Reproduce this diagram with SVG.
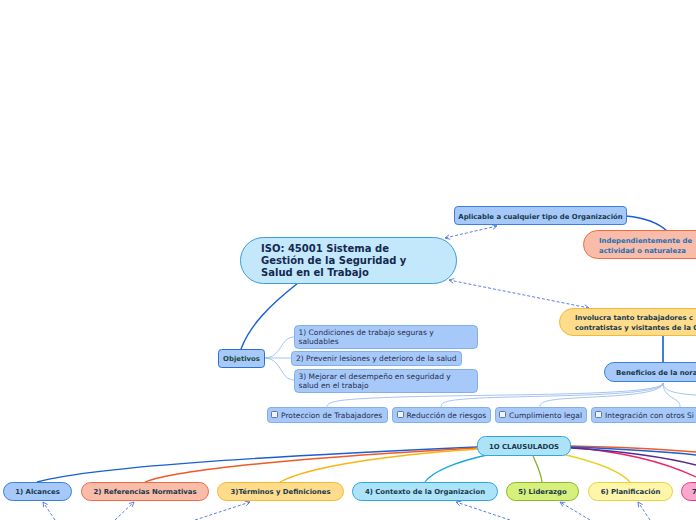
<svg xmlns="http://www.w3.org/2000/svg" width="696" height="520" viewBox="0 0 696 520">
<defs>
<marker id="ah" viewBox="0 0 10 10" refX="9" refY="5" markerWidth="6" markerHeight="6" orient="auto-start-reverse" markerUnits="userSpaceOnUse">
<path d="M1,1 L9,5 L1,9" fill="none" stroke="#5a7ee8" stroke-width="1.5"/>
</marker>
<style>
text{font-family:"DejaVu Sans","Liberation Sans",sans-serif;}
.b{font-weight:bold;font-size:6.9px;fill:#17384a;}
.n{font-size:7.5px;fill:#2a2d4a;}
.blue{fill:#a6c9fa;stroke:#3b7fe0;stroke-width:1;}
.sal{fill:#f9bca8;stroke:#f26a45;stroke-width:1;}
.yel{fill:#fedc8c;stroke:#f6b92f;stroke-width:1;}
.cy{fill:#ade3f9;stroke:#2aa8e2;stroke-width:1;}
.lime{fill:#d6f07b;stroke:#8cb82a;stroke-width:1;}
.ly{fill:#fff6aa;stroke:#e9d23b;stroke-width:1;}
.pink{fill:#f9a9cd;stroke:#f0357f;stroke-width:1;}
.sub{fill:#a6c9fa;stroke:#6e9fe8;stroke-width:0.8;}
.dash{fill:none;stroke:#5a7ee8;stroke-width:1;stroke-dasharray:3,2;marker-end:url(#ah);}
.dash2{fill:none;stroke:#5a7ee8;stroke-width:1;stroke-dasharray:3,2;marker-end:url(#ah);marker-start:url(#ah);}
.thin{fill:none;stroke:#8fb4ee;stroke-width:0.8;}
.cb{fill:#eef4ff;stroke:#3a4a6a;stroke-width:0.7;}
</style>
</defs>
<rect width="696" height="520" fill="#ffffff"/>
<g id="connectors">
<path d="M626,216 C648,218 660,224 668,232" fill="none" stroke="#1a5fd6" stroke-width="1.5"/>
<path class="dash2" d="M497,226 L445,238"/>
<path class="dash2" d="M589,308 L449,280"/>
<path d="M298,283 C270,305 250,325 241,349" fill="none" stroke="#1a5fd6" stroke-width="1.5"/>
<path d="M663,336 L663,362" fill="none" stroke="#3b7fd9" stroke-width="2"/>
<path class="thin" d="M264,358 C282,358 280,337 294,337"/>
<path class="thin" d="M264,358 L291,358"/>
<path class="thin" d="M264,358 C282,358 280,380 294,380"/>
<path class="thin" d="M663,383 C663,396 500,394 400,397 C340,399 327,401 327,407"/>
<path class="thin" d="M663,383 C663,396 560,395 480,398 C445,400 441,402 441,407"/>
<path class="thin" d="M663,383 C663,396 600,396 560,399 C542,401 540,403 540,407"/>
<path class="thin" d="M663,383 C663,393 670,396 676,400 C680,403 680,405 680,407"/>
<path class="thin" d="M663,383 C663,392 680,394 696,395"/>
<path d="M477,447 C300,455 100,465 37,482" fill="none" stroke="#1a5fd6" stroke-width="1.3"/>
<path d="M477,448 C330,456 180,468 145,482" fill="none" stroke="#f05a28" stroke-width="1.3"/>
<path d="M478,449 C390,455 310,466 280,482" fill="none" stroke="#fbb315" stroke-width="1.3"/>
<path d="M487,455 C455,462 432,472 425,482" fill="none" stroke="#1aa8e0" stroke-width="1.3"/>
<path d="M533,456 C537,465 541,473 542,482" fill="none" stroke="#8ab020" stroke-width="1.3"/>
<path d="M566,455 C600,463 622,473 630,482" fill="none" stroke="#e8d020" stroke-width="1.3"/>
<path d="M570,447 C620,452 660,460 696,477" fill="none" stroke="#f0246e" stroke-width="1.3"/>
<path d="M571,446 C620,447 660,449 696,452" fill="none" stroke="#f05a28" stroke-width="1.3"/>
<path d="M571,447 C620,449 660,451 696,455" fill="none" stroke="#1a5fd6" stroke-width="1.3"/>
<path d="M571,448 C620,451 660,456 696,465" fill="none" stroke="#5a2a8a" stroke-width="1.3"/>
<path class="dash" d="M55,520 L43,502"/>
<path class="dash" d="M115,520 L134,502"/>
<path class="dash" d="M195,520 L250,502"/>
<path class="dash" d="M510,520 L456,502"/>
<path class="dash" d="M590,520 L560,502"/>
<path class="dash" d="M650,520 L638,502"/>
</g>
<g id="main">
<rect x="240.5" y="237.5" width="216" height="46" rx="23" fill="#c4e8fb" stroke="#3a9cdc" stroke-width="1"/>
<text x="261" y="252" font-size="10" font-weight="bold" fill="#14294f">ISO: 45001 Sistema de</text>
<text x="261" y="264" font-size="10" font-weight="bold" fill="#14294f">Gestión de la Seguridad y</text>
<text x="261" y="276" font-size="10" font-weight="bold" fill="#14294f">Salud en el Trabajo</text>
</g>
<g id="aplicable">
<rect class="blue" x="454.5" y="206.5" width="172" height="18" rx="3.5"/>
<text class="b" x="540.5" y="218.5" text-anchor="middle">Aplicable a cualquier tipo de Organización</text>
</g>
<g id="independientemente">
<rect class="sal" x="583.5" y="230.5" width="140" height="28" rx="14"/>
<text class="b" x="599" y="243" style="fill:#1f6fb5">Independientemente de</text>
<text class="b" x="599" y="252.5" style="fill:#1f6fb5">actividad o naturaleza</text>
</g>
<g id="involucra">
<rect class="yel" x="559.5" y="308.5" width="160" height="27" rx="13.5"/>
<text class="b" x="575" y="320">Involucra tanto trabajadores c</text>
<text class="b" x="575" y="329.5">contratistas y visitantes de la O</text>
</g>
<g id="beneficios">
<rect class="blue" x="604.5" y="362.5" width="120" height="19" rx="9.5"/>
<text class="b" x="616" y="374.5">Beneficios de la nora</text>
</g>
<g id="objetivos">
<rect x="218.5" y="349.5" width="46" height="18" rx="3" fill="#a6c9fa" stroke="#2a6ed6" stroke-width="1"/>
<text class="b" x="241.5" y="361" text-anchor="middle" style="fill:#1b4a3a">Objetivos</text>
</g>
<g id="obj1">
<rect class="sub" x="294.5" y="325.5" width="183" height="23" rx="4"/>
<text class="n" x="298.5" y="335">1) Condiciones de trabajo seguras y</text>
<text class="n" x="298.5" y="344">saludables</text>
</g>
<g id="obj2">
<rect class="sub" x="291.5" y="351.5" width="170" height="14" rx="3"/>
<text class="n" x="296" y="361">2) Prevenir lesiones y deterioro de la salud</text>
</g>
<g id="obj3">
<rect class="sub" x="294.5" y="369.5" width="183" height="23" rx="4"/>
<text class="n" x="298.5" y="379">3) Mejorar el desempeño en seguridad y</text>
<text class="n" x="298.5" y="388">salud en el trabajo</text>
</g>
<g id="ben1">
<rect class="sub" x="267.5" y="407.5" width="120" height="15" rx="3"/>
<rect class="cb" x="271.5" y="411.5" width="6" height="6" rx="1"/>
<text class="n" x="281" y="417.5">Proteccion de Trabajadores</text>
</g>
<g id="ben2">
<rect class="sub" x="392.5" y="407.5" width="98" height="15" rx="3"/>
<rect class="cb" x="397.5" y="411.5" width="6" height="6" rx="1"/>
<text class="n" x="406.5" y="417.5">Reducción de riesgos</text>
</g>
<g id="ben3">
<rect class="sub" x="495.5" y="407.5" width="91" height="15" rx="3"/>
<rect class="cb" x="499.5" y="411.5" width="6" height="6" rx="1"/>
<text class="n" x="509" y="417.5">Cumplimiento legal</text>
</g>
<g id="ben4">
<rect class="sub" x="591.5" y="407.5" width="130" height="15" rx="3"/>
<rect class="cb" x="595.5" y="411.5" width="6" height="6" rx="1"/>
<text class="n" x="605" y="417.5">Integración con otros Si</text>
</g>
<g id="clausulados">
<rect class="cy" x="477.5" y="436.5" width="93" height="19" rx="8"/>
<text class="b" x="524" y="448.5" text-anchor="middle">1O CLAUSULADOS</text>
</g>
<g id="c1">
<rect class="blue" x="3.5" y="482.5" width="68" height="18" rx="9"/>
<text class="b" x="37.5" y="494" text-anchor="middle">1) Alcances</text>
</g>
<g id="c2">
<rect class="sal" x="81.5" y="482.5" width="127" height="18" rx="9"/>
<text class="b" x="145" y="494" text-anchor="middle">2) Referencias Normativas</text>
</g>
<g id="c3">
<rect class="yel" x="217.5" y="482.5" width="126" height="18" rx="9"/>
<text class="b" x="280.5" y="494" text-anchor="middle">3)Términos y Definiciones</text>
</g>
<g id="c4">
<rect class="cy" x="352.5" y="482.5" width="145" height="18" rx="9"/>
<text class="b" x="425" y="494" text-anchor="middle">4) Contexto de la Organizacion</text>
</g>
<g id="c5">
<rect class="lime" x="506.5" y="482.5" width="72" height="18" rx="9"/>
<text class="b" x="542.5" y="494" text-anchor="middle">5) Liderazgo</text>
</g>
<g id="c6">
<rect class="ly" x="588.5" y="482.5" width="84" height="18" rx="9"/>
<text class="b" x="630.5" y="494" text-anchor="middle">6) Planificación</text>
</g>
<g id="c7">
<rect class="pink" x="681.5" y="482.5" width="60" height="18" rx="9"/>
<text class="b" x="692" y="494">7</text>
</g>
</svg>
